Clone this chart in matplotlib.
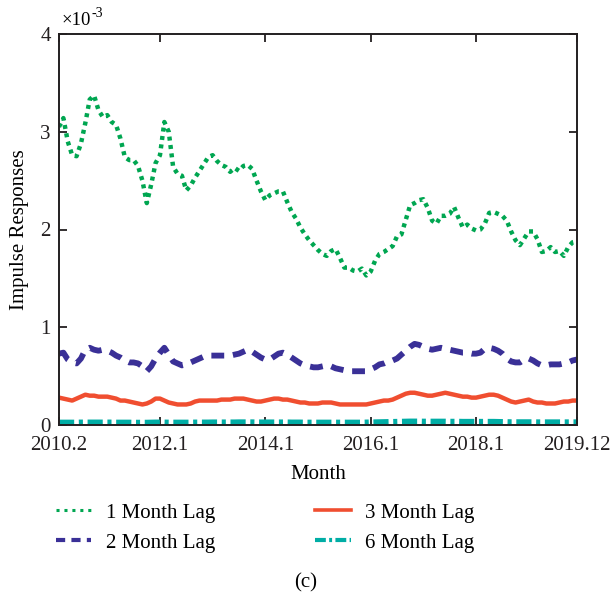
import matplotlib
matplotlib.use("Agg")
import matplotlib.pyplot as plt
import numpy as np

plt.rcParams['font.family'] = ['Liberation Serif', 'DejaVu Serif']

# ---- data (values in units of 1e-3), monthly from 2010.2 to 2019.12 ----
tick_labels = ["2010.2", "2012.1", "2014.1", "2016.1", "2018.1", "2019.12"]
tick_months = [0, 23, 47, 71, 95, 118]

lag1 = [3.05, 3.14, 2.90, 2.76, 2.75, 2.88, 3.09, 3.33, 3.37, 3.22,
        3.15, 3.17, 3.10, 3.07, 2.93, 2.74, 2.71, 2.71, 2.65, 2.50,
        2.27, 2.46, 2.68, 2.76, 3.10, 3.00, 2.64, 2.57, 2.55, 2.40,
        2.45, 2.53, 2.60, 2.67, 2.74, 2.76, 2.70, 2.66, 2.64, 2.59,
        2.63, 2.60, 2.65, 2.66, 2.62, 2.50, 2.39, 2.30, 2.35, 2.37,
        2.39, 2.39, 2.28, 2.18, 2.11, 2.02, 1.95, 1.89, 1.84, 1.79,
        1.75, 1.73, 1.78, 1.80, 1.71, 1.61, 1.61, 1.58, 1.57, 1.60,
        1.53, 1.57, 1.68, 1.75, 1.77, 1.80, 1.83, 1.93, 1.95, 2.10,
        2.25, 2.27, 2.30, 2.31, 2.22, 2.09, 2.06, 2.14, 2.14, 2.16,
        2.23, 2.12, 2.02, 2.05, 2.01, 1.99, 2.00, 2.06, 2.17, 2.18,
        2.16, 2.14, 2.09, 1.98, 1.89, 1.84, 1.91, 1.98, 1.98, 1.90,
        1.77, 1.78, 1.82, 1.77, 1.78, 1.73, 1.82, 1.87, 1.88]

lag2 = [0.73, 0.74, 0.67, 0.64, 0.63, 0.68, 0.77, 0.79, 0.77, 0.76,
        0.77, 0.76, 0.74, 0.71, 0.69, 0.66, 0.64, 0.64, 0.63, 0.60,
        0.55, 0.60, 0.68, 0.74, 0.79, 0.72, 0.65, 0.63, 0.61, 0.62,
        0.64, 0.66, 0.68, 0.70, 0.71, 0.71, 0.71, 0.71, 0.71, 0.71,
        0.72, 0.73, 0.75, 0.77, 0.75, 0.72, 0.69, 0.67, 0.67, 0.70,
        0.73, 0.74, 0.72, 0.69, 0.66, 0.63, 0.61, 0.60, 0.59, 0.59,
        0.60, 0.61, 0.60, 0.58, 0.57, 0.56, 0.55, 0.55, 0.55, 0.55,
        0.55, 0.57, 0.59, 0.62, 0.63, 0.65, 0.66, 0.68, 0.72, 0.76,
        0.80, 0.83, 0.82, 0.80, 0.78, 0.77, 0.78, 0.79, 0.78, 0.77,
        0.76, 0.75, 0.74, 0.74, 0.73, 0.73, 0.74, 0.78, 0.79, 0.78,
        0.76, 0.73, 0.68, 0.65, 0.64, 0.64, 0.67, 0.68, 0.66, 0.63,
        0.61, 0.61, 0.62, 0.62, 0.62, 0.63, 0.64, 0.66, 0.67]

lag3 = [0.28, 0.27, 0.26, 0.25, 0.27, 0.29, 0.31, 0.30, 0.30, 0.29,
        0.29, 0.29, 0.28, 0.27, 0.25, 0.25, 0.24, 0.23, 0.22, 0.21,
        0.22, 0.24, 0.27, 0.27, 0.25, 0.23, 0.22, 0.21, 0.21, 0.21,
        0.22, 0.24, 0.25, 0.25, 0.25, 0.25, 0.25, 0.26, 0.26, 0.26,
        0.27, 0.27, 0.27, 0.26, 0.25, 0.24, 0.24, 0.25, 0.26, 0.27,
        0.27, 0.26, 0.26, 0.25, 0.24, 0.23, 0.23, 0.22, 0.22, 0.22,
        0.23, 0.23, 0.23, 0.22, 0.21, 0.21, 0.21, 0.21, 0.21, 0.21,
        0.21, 0.22, 0.23, 0.24, 0.25, 0.25, 0.26, 0.28, 0.30, 0.32,
        0.33, 0.33, 0.32, 0.31, 0.30, 0.30, 0.31, 0.32, 0.33, 0.32,
        0.31, 0.30, 0.29, 0.29, 0.28, 0.28, 0.29, 0.30, 0.31, 0.31,
        0.30, 0.28, 0.26, 0.24, 0.23, 0.24, 0.25, 0.26, 0.24, 0.23,
        0.23, 0.22, 0.22, 0.22, 0.23, 0.24, 0.24, 0.25, 0.25]

lag6 = [0.025, 0.025, 0.025, 0.025, 0.025, 0.026, 0.026, 0.026, 0.026, 0.026,
        0.026, 0.026, 0.026, 0.025, 0.025, 0.025, 0.025, 0.024, 0.024, 0.024,
        0.024, 0.025, 0.026, 0.026, 0.026, 0.025, 0.025, 0.025, 0.025, 0.025,
        0.025, 0.026, 0.026, 0.026, 0.026, 0.027, 0.027, 0.027, 0.027, 0.027,
        0.027, 0.028, 0.028, 0.028, 0.028, 0.027, 0.027, 0.027, 0.027, 0.027,
        0.027, 0.027, 0.027, 0.026, 0.026, 0.026, 0.025, 0.025, 0.025, 0.025,
        0.025, 0.025, 0.025, 0.025, 0.025, 0.025, 0.025, 0.025, 0.025, 0.025,
        0.026, 0.027, 0.028, 0.029, 0.030, 0.031, 0.032, 0.033, 0.034, 0.035,
        0.036, 0.036, 0.036, 0.035, 0.035, 0.035, 0.035, 0.035, 0.035, 0.034,
        0.034, 0.034, 0.033, 0.033, 0.033, 0.033, 0.033, 0.033, 0.033, 0.033,
        0.032, 0.031, 0.030, 0.029, 0.029, 0.029, 0.029, 0.029, 0.029, 0.028,
        0.028, 0.028, 0.028, 0.028, 0.028, 0.028, 0.028, 0.028, 0.028]

labels = ["1 Month Lag", "2 Month Lag", "3 Month Lag", "6 Month Lag"]
colors = ["#00A651", "#3A3097", "#F04E30", "#00ADA5"]

months = np.arange(len(lag1))

W, H = 612, 604
fig = plt.figure(figsize=(W / 100, H / 100), dpi=100)
ax = fig.add_axes([59 / W, 1 - 425 / H, (577 - 59) / W, (425 - 34) / H])

fs = 15
l1, = ax.plot(months, lag1, color=colors[0], lw=3.2, linestyle=(0, (0.9, 1.0)),
              label=labels[0])
l2, = ax.plot(months, lag2, color=colors[1], lw=4.2, linestyle=(0, (2.2, 1.5)),
              label=labels[1])
l3, = ax.plot(months, lag3, color=colors[2], lw=3.2, linestyle='-',
              label=labels[2])
l6, = ax.plot(months, lag6, color=colors[3], lw=4.2,
              linestyle=(0, (2.6, 0.8, 0.7, 0.8)), label=labels[3])

ax.set_xlim(0, 118)
ax.set_ylim(0, 4)
ax.set_xticks(tick_months)
ax.set_xticklabels(tick_labels)
ax.set_yticks([0, 1, 2, 3, 4])
ax.set_yticklabels(["0", "1", "2", "3", "4"])
ax.tick_params(direction='in', length=6, width=1.3, top=True, right=True,
               labelsize=fs, colors='#231f20')
ax.tick_params(axis='x', pad=8)
ax.tick_params(axis='y', pad=6)
for s in ax.spines.values():
    s.set_linewidth(1.4)
    s.set_color('#231f20')

ax.set_xlabel("Month", fontsize=fs, labelpad=7)
ax.set_ylabel("Impulse Responses", fontsize=fs, labelpad=8)

t10 = fig.text(62 / W, 1 - 25 / H, "\u00d710", fontsize=13.5, ha='left',
               va='baseline')
ax.annotate("-3", xy=(1.0, 0.55), xycoords=t10, fontsize=10, ha='left',
            va='bottom')

leg = fig.legend([l1, l2, l3, l6], labels, ncol=2, loc='upper left',
                 bbox_to_anchor=(56 / W, 1 - 503 / H), frameon=False,
                 fontsize=fs, handlelength=1.7, handletextpad=0.7,
                 columnspacing=4.8, labelspacing=0.5, borderpad=0,
                 borderaxespad=0)
for ln, lw in zip(leg.get_lines(), [2.2, 3.0, 2.6, 3.0]):
    ln.set_linewidth(lw)
leg.get_lines()[0].set_dashes([1.0, 1.6])

fig.text(0.5, 1 - 583 / H, "(c)", fontsize=fs, ha='center', va='center')

fig.savefig("out.png", dpi=100)
